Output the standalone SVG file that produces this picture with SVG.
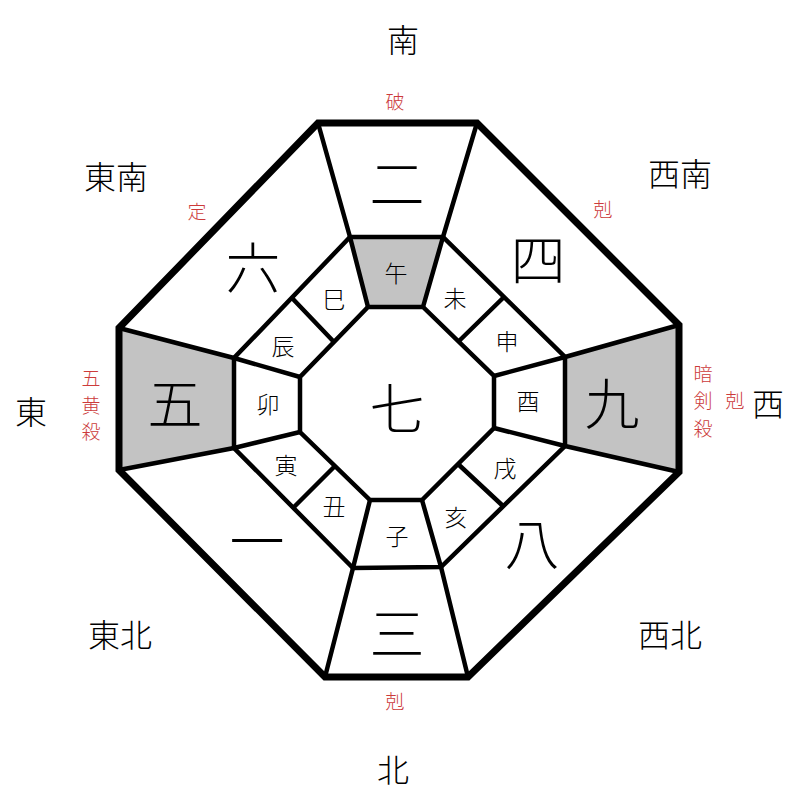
<svg xmlns="http://www.w3.org/2000/svg" width="800" height="800" viewBox="0 0 800 800">
<style>
text{font-family:"Noto Sans CJK JP","Noto Sans CJK SC",sans-serif;text-anchor:middle;dominant-baseline:central}
.dir{font-size:32px;fill:#000;font-weight:300}
.red{font-size:19px;fill:#cc3b3b;font-weight:300}
.big{font-size:55px;fill:#000;font-weight:300}
.br{font-size:23px;fill:#000;font-weight:300}
.gray{fill:#c3c3c3;stroke:none}
.ln{fill:none;stroke:#000;stroke-width:4.5;stroke-linejoin:miter}
.outer{fill:none;stroke:#000;stroke-width:7;stroke-linejoin:miter}
</style>
<rect width="800" height="800" fill="#fff"/>
<g id="fills">
<polygon class="gray" points="350,237 443,237 423,307 368,307"/>
<polygon class="gray" points="119,328 234,358 234,448 119,470"/>
<polygon class="gray" points="565,357 679,325 679,472 565,446"/>
</g>
<g id="connectors">
<polygon class="outer" points="318,123 477,123 679,325 679,472 468,677 325,677 119,470 119,328"/>
<polygon class="ln" points="350,237 443,237 565,357 565,446 441,567 353,568 234,448 234,358"/>
<polygon class="ln" points="368,307 423,307 494,376 494,428 422,500 370,500 300,432 300,377"/>
<path class="ln" d="M318,123L350,237M477,123L443,237M679,325L565,357M679,472L565,446M468,677L441,567M325,677L353,568M119,470L234,448M119,328L234,358"/>
<path class="ln" d="M350,237L368,307M443,237L423,307M565,357L494,376M565,446L494,428M441,567L422,500M353,568L370,500M234,448L300,432M234,358L300,377"/>
<path class="ln" d="M292,298L334,342M504,297L458,342M458,464L503,506M335,466L293,508"/>
</g>
<g id="n-south"><text class="big" x="397" y="180">二</text></g>
<g id="n-southwest"><text class="big" x="538" y="256">四</text></g>
<g id="n-west"><text class="big" x="612" y="400">九</text></g>
<g id="n-northwest"><text class="big" x="532" y="540">八</text></g>
<g id="n-north"><text class="big" x="397" y="630">三</text></g>
<g id="n-northeast"><text class="big" x="257" y="538">一</text></g>
<g id="n-east"><text class="big" x="175" y="400">五</text></g>
<g id="n-southeast"><text class="big" x="253" y="264">六</text></g>
<g id="n-center"><text class="big" x="397" y="405">七</text></g>
<g id="branches">
<text class="br" x="396" y="272">午</text>
<text class="br" x="455" y="297">未</text>
<text class="br" x="507" y="340">申</text>
<text class="br" x="528" y="400">酉</text>
<text class="br" x="505" y="467">戌</text>
<text class="br" x="456" y="516">亥</text>
<text class="br" x="397" y="535">子</text>
<text class="br" x="334" y="505">丑</text>
<text class="br" x="286" y="464">寅</text>
<text class="br" x="268" y="403">卯</text>
<text class="br" x="283" y="345">辰</text>
<text class="br" x="334" y="298">巳</text>
</g>
<g id="directions">
<text class="dir" x="403" y="38">南</text>
<text class="dir" x="116" y="175">東南</text>
<text class="dir" x="680" y="172">西南</text>
<text class="dir" x="31" y="410">東</text>
<text class="dir" x="768" y="402">西</text>
<text class="dir" x="120" y="633">東北</text>
<text class="dir" x="670" y="633">西北</text>
<text class="dir" x="393" y="768">北</text>
</g>
<g id="marks">
<text class="red" x="395" y="100">破</text>
<text class="red" x="197" y="210">定</text>
<text class="red" x="603" y="208">剋</text>
<text class="red" x="91" y="377">五</text>
<text class="red" x="91" y="404">黄</text>
<text class="red" x="91" y="430">殺</text>
<text class="red" x="703" y="372">暗</text>
<text class="red" x="703" y="399">剣</text>
<text class="red" x="703" y="427">殺</text>
<text class="red" x="735" y="399">剋</text>
<text class="red" x="395" y="700">剋</text>
</g>
</svg>
